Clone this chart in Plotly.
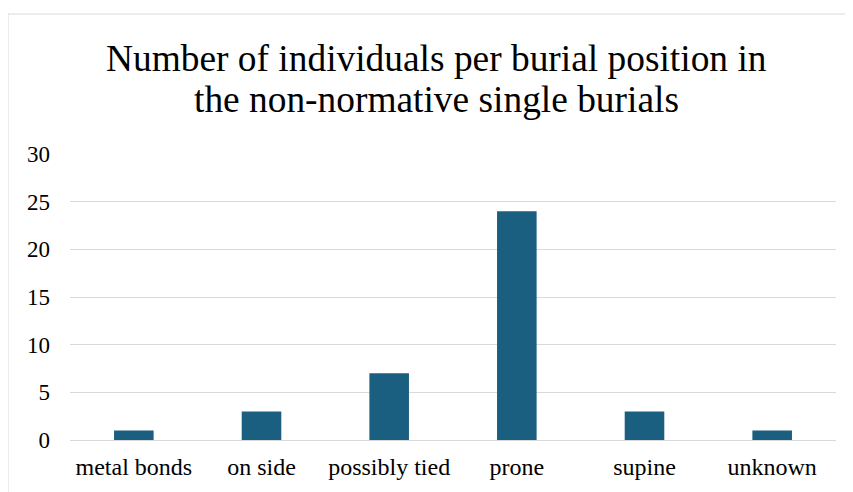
import plotly.graph_objects as go

categories = ["metal bonds", "on side", "possibly tied", "prone", "supine", "unknown"]
counts = [1, 3, 7, 24, 3, 1]
y_ticks = [0, 5, 10, 15, 20, 25, 30]
title_lines = ["Number of individuals per burial position in", "the non-normative single burials"]

# page body has an 8px margin: figure coordinates = screen - 8
W, H = 845, 484
L, R, T, B = 62, 17, 146, 52
pw, ph = W - L - R, H - T - B
FONT = "Liberation Serif, Times New Roman, serif"

fig = go.Figure(go.Bar(x=categories, y=counts, marker=dict(color="#1A5E80", line=dict(width=0))))

def px_x(x):
    return (x - L) / pw

def px_y(y):
    return (H - B - y) / ph

annotations = []
for text, yc in zip(title_lines, [50, 91]):
    annotations.append(dict(text=text, xref="paper", yref="paper", x=px_x(428.5), y=px_y(yc),
                            xanchor="center", yanchor="middle", showarrow=False,
                            font=dict(family=FONT, size=37.4, color="#000000")))

fig.update_layout(
    width=W, height=H,
    margin=dict(l=L, r=R, t=T, b=B),
    paper_bgcolor="white", plot_bgcolor="white",
    bargap=0.69,
    font=dict(family=FONT, color="#000000", size=23.5),
    annotations=annotations,
    xaxis=dict(showgrid=False, showline=False, ticks="", ticklabelstandoff=10,
               tickfont=dict(family=FONT, size=24, color="#000000")),
    yaxis=dict(range=[0, 30], tickvals=y_ticks, showgrid=True, gridcolor="#D9D9D9", gridwidth=1,
               zeroline=True, zerolinecolor="#D9D9D9", zerolinewidth=1, showline=False,
               ticks="", ticklabelstandoff=19,
               tickfont=dict(family=FONT, size=23, color="#000000")),
    shapes=[dict(type="rect", xref="paper", yref="paper",
                 x0=px_x(0), x1=px_x(843), y0=px_y(490), y1=px_y(6),
                 line=dict(color="#D9D9D9", width=1), fillcolor="rgba(0,0,0,0)", layer="below")],
    showlegend=False,
)

fig.write_html("out.html")
